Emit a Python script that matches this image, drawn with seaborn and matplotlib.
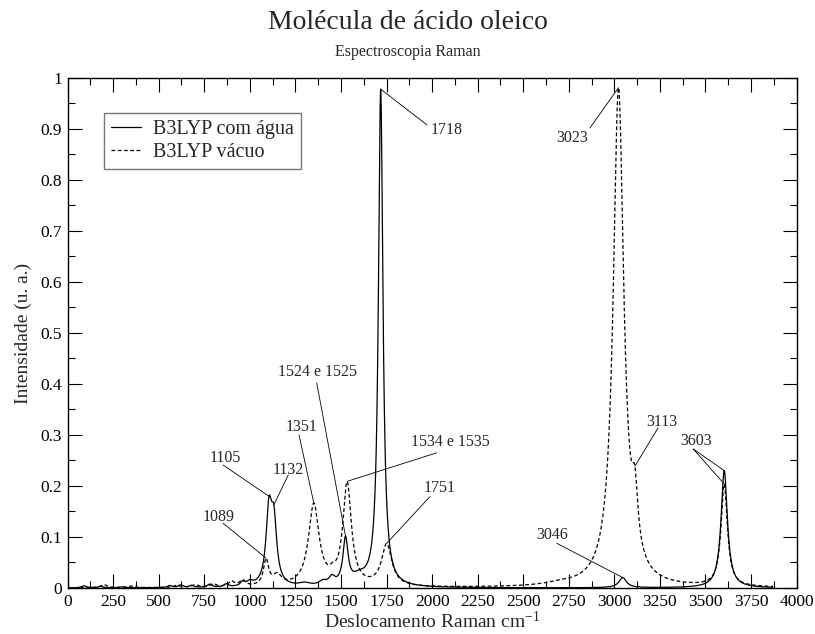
import numpy as np
import pandas as pd
import matplotlib
matplotlib.use("Agg")
import matplotlib.pyplot as plt
import seaborn as sns
from matplotlib.ticker import MultipleLocator, FixedLocator, FixedFormatter

# Raman-active modes: wavenumber (cm-1), peak height (u. a.) and band FWHM (cm-1)
agua_freq = [90, 180, 300, 560, 620, 680, 780, 870, 960, 1000, 1105, 1132,
             1300, 1400, 1450, 1525, 1600, 1718, 3046, 3603]
agua_int = [0.004, 0.003, 0.002, 0.004, 0.005, 0.004, 0.006, 0.006, 0.008, 0.008,
            0.140, 0.115, 0.006, 0.008, 0.015, 0.090, 0.015, 0.975, 0.020, 0.230]
agua_fwhm = [30, 30, 30, 30, 30, 30, 30, 30, 30, 40,
             38, 38, 80, 50, 40, 34, 90, 30, 50, 42]

vacuo_freq = [200, 350, 600, 700, 800, 900, 960, 1089, 1150, 1351, 1455,
              1534, 1751, 2700, 3023, 3113, 3603]
vacuo_int = [0.006, 0.003, 0.004, 0.005, 0.006, 0.010, 0.012, 0.050, 0.020, 0.160, 0.010,
             0.200, 0.082, 0.004, 0.975, 0.110, 0.200]
vacuo_fwhm = [40, 40, 40, 40, 40, 40, 40, 34, 60, 70, 40,
              56, 68, 200, 70, 40, 42]

serie_agua = "B3LYP com água"
serie_vacuo = "B3LYP vácuo"

x_ticks = list(range(0, 4001, 250))
y_ticks = [0, 0.1, 0.2, 0.3, 0.4, 0.5, 0.6, 0.7, 0.8, 0.9, 1.0]
y_tick_labels = ["0", "0.1", "0.2", "0.3", "0.4", "0.5", "0.6", "0.7", "0.8", "0.9", "1"]

# Peak labels: text, text centre, start of the leader line, and the band(s) it points to
label_text = ["1105", "1132", "1524 e 1525", "1718", "3046", "3603",
              "1089", "1351", "1534 e 1535", "1751", "3023", "3113"]
label_pos = [(864, 0.255), (1209, 0.231), (1374, 0.4235), (2081, 0.898), (2658, 0.104),
             (3448, 0.288), (831, 0.139), (1286, 0.316), (2098, 0.286), (2043, 0.196),
             (2768, 0.882), (3262, 0.325)]
label_line = [(854, 0.241), (1211, 0.2216), (1367, 0.402), (1972, 0.908), (2684, 0.0876),
              (3433, 0.2725), (853, 0.127), (1270, 0.300), (2025, 0.265), (1988, 0.179),
              (2866, 0.902), (3240, 0.314)]
label_target = [[(serie_agua, 1105)], [(serie_agua, 1132)], [(serie_agua, 1525)],
                [(serie_agua, 1718)], [(serie_agua, 3046)],
                [(serie_agua, 3603), (serie_vacuo, 3603)],
                [(serie_vacuo, 1089)], [(serie_vacuo, 1351)], [(serie_vacuo, 1534)],
                [(serie_vacuo, 1751)], [(serie_vacuo, 3023)], [(serie_vacuo, 3113)]]


def lorentz_spectrum(grid, freq, height, fwhm):
    grid = np.asarray(grid, dtype=float)[:, None]
    f = np.asarray(freq, dtype=float)[None, :]
    h = np.asarray(height, dtype=float)[None, :]
    g = np.asarray(fwhm, dtype=float)[None, :] / 2.0
    return (h / (1.0 + ((grid - f) / g) ** 2)).sum(axis=1)


wavenumber = np.arange(0, 3871, 1.0)
spectra = {
    serie_agua: lorentz_spectrum(wavenumber, agua_freq, agua_int, agua_fwhm),
    serie_vacuo: lorentz_spectrum(wavenumber, vacuo_freq, vacuo_int, vacuo_fwhm),
}
df = pd.concat([
    pd.DataFrame({"Deslocamento": wavenumber, "Intensidade": spectra[k], "Modelo": k})
    for k in (serie_agua, serie_vacuo)
], ignore_index=True)

sns.set_style("ticks")
plt.rcParams["font.family"] = ["Liberation Serif", "DejaVu Serif"]
plt.rcParams["mathtext.fontset"] = "custom"
plt.rcParams["mathtext.rm"] = "Liberation Serif"

fig = plt.figure(figsize=(8.15, 6.34), dpi=100)
ax = fig.add_axes([0.0829, 0.0726, 0.8945, 0.8044])

sns.lineplot(data=df, x="Deslocamento", y="Intensidade", style="Modelo",
             style_order=[serie_agua, serie_vacuo],
             dashes={serie_agua: "", serie_vacuo: (3, 2)},
             color="black", linewidth=0.9, estimator=None, sort=False,
             legend=False, ax=ax)

ax.set_xlim(0, 4000)
ax.set_ylim(0, 1)
ax.xaxis.set_major_locator(FixedLocator(x_ticks))
ax.xaxis.set_minor_locator(MultipleLocator(125))
ax.yaxis.set_major_locator(FixedLocator(y_ticks))
ax.yaxis.set_major_formatter(FixedFormatter(y_tick_labels))
ax.yaxis.set_minor_locator(MultipleLocator(0.05))
ax.tick_params(which="both", direction="in", top=True, right=True,
               color="black", width=0.8, labelsize=12.5, labelcolor="black")
ax.tick_params(which="major", length=10, pad=4)
ax.tick_params(which="minor", length=5)
for s in ax.spines.values():
    s.set_visible(True)
    s.set_color("black")
    s.set_linewidth(1.0)

ax.set_xlabel(r"Deslocamento Raman $\mathregular{cm^{-1}}$", fontsize=14, labelpad=1)
ax.set_ylabel("Intensidade (u. a.)", fontsize=14, labelpad=6)

# Legend drawn from the two plotted lines
lines = ax.get_lines()
leg = ax.legend(lines[:2], [serie_agua, serie_vacuo], loc="upper left",
                bbox_to_anchor=(0.05, 0.931), borderaxespad=0, fontsize=14.5,
                frameon=True, fancybox=False, handlelength=1.5, handletextpad=0.6,
                labelspacing=0.2, borderpad=0.35)
leg.get_frame().set_edgecolor("#555555")
leg.get_frame().set_linewidth(1.0)

# Peak annotations with leader lines
for txt, tpos, lpos, targets in zip(label_text, label_pos, label_line, label_target):
    ax.text(tpos[0], tpos[1], txt, ha="center", va="center", fontsize=11.5)
    for serie, nu in targets:
        y_peak = float(np.interp(nu, wavenumber, spectra[serie]))
        ax.annotate("", xy=(nu, y_peak), xytext=lpos,
                    arrowprops=dict(arrowstyle="-", color="black", lw=0.6,
                                    shrinkA=0, shrinkB=0))

fig.text(0.5, 0.965, "Molécula de ácido oleico", ha="center", va="center", fontsize=20)
fig.text(0.5, 0.918, "Espectroscopia Raman", ha="center", va="center", fontsize=11.5)

fig.savefig("out.png", dpi=100)
